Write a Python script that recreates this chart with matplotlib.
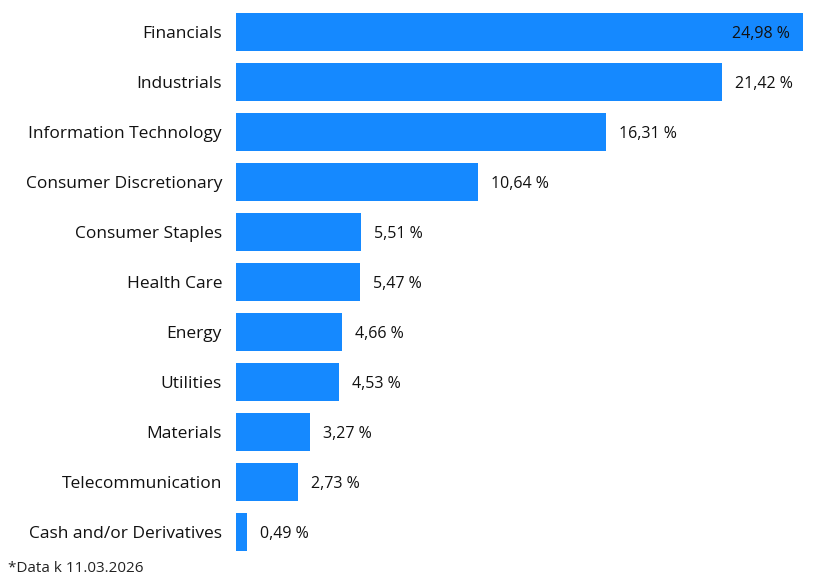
import matplotlib
matplotlib.use("Agg")
import matplotlib.pyplot as plt

categories = ["Financials", "Industrials", "Information Technology",
              "Consumer Discretionary", "Consumer Staples", "Health Care",
              "Energy", "Utilities", "Materials", "Telecommunication",
              "Cash and/or Derivatives"]
weights = [24.98, 21.42, 16.31, 10.64, 5.51, 5.47, 4.66, 4.53, 3.27, 2.73, 0.49]
footnote = "*Data k 11.03.2026"

BAR_COLOR = "#1589ff"
plt.rcParams["font.family"] = ["Open Sans", "DejaVu Sans"]

W, H = 816, 588
fig = plt.figure(figsize=(W / 100, H / 100), dpi=100)
ax = fig.add_axes([236 / W, 1 - 557 / H, (806 - 236) / W, 550 / H])

y = list(range(len(categories)))
ax.barh(y, weights, height=0.76, color=BAR_COLOR)
ax.set_ylim(len(categories) - 0.5, -0.5)
ax.set_xlim(0, 24.98 * 570 / 567)

ax.set_yticks(y)
ax.set_yticklabels(categories, fontsize=12.5, color="#111111")
ax.tick_params(axis="y", length=0, pad=10)
ax.set_xticks([])
for s in ax.spines.values():
    s.set_visible(False)

# px -> data units along x
px = ax.get_xlim()[1] / 570
for i, v in enumerate(weights):
    lab = f"{v:.2f}".replace(".", ",") + " %"
    if v > 23:
        ax.text(v - 13 * px, i, lab, ha="right", va="center_baseline", fontsize=11.5, color="#111111")
    else:
        ax.text(v + 13 * px, i, lab, ha="left", va="center_baseline", fontsize=11.5, color="#111111")

fig.text(8 / W, 1 - 568 / H, footnote, ha="left", va="center", fontsize=11, color="#222222")

fig.savefig("out.png", dpi=100)
